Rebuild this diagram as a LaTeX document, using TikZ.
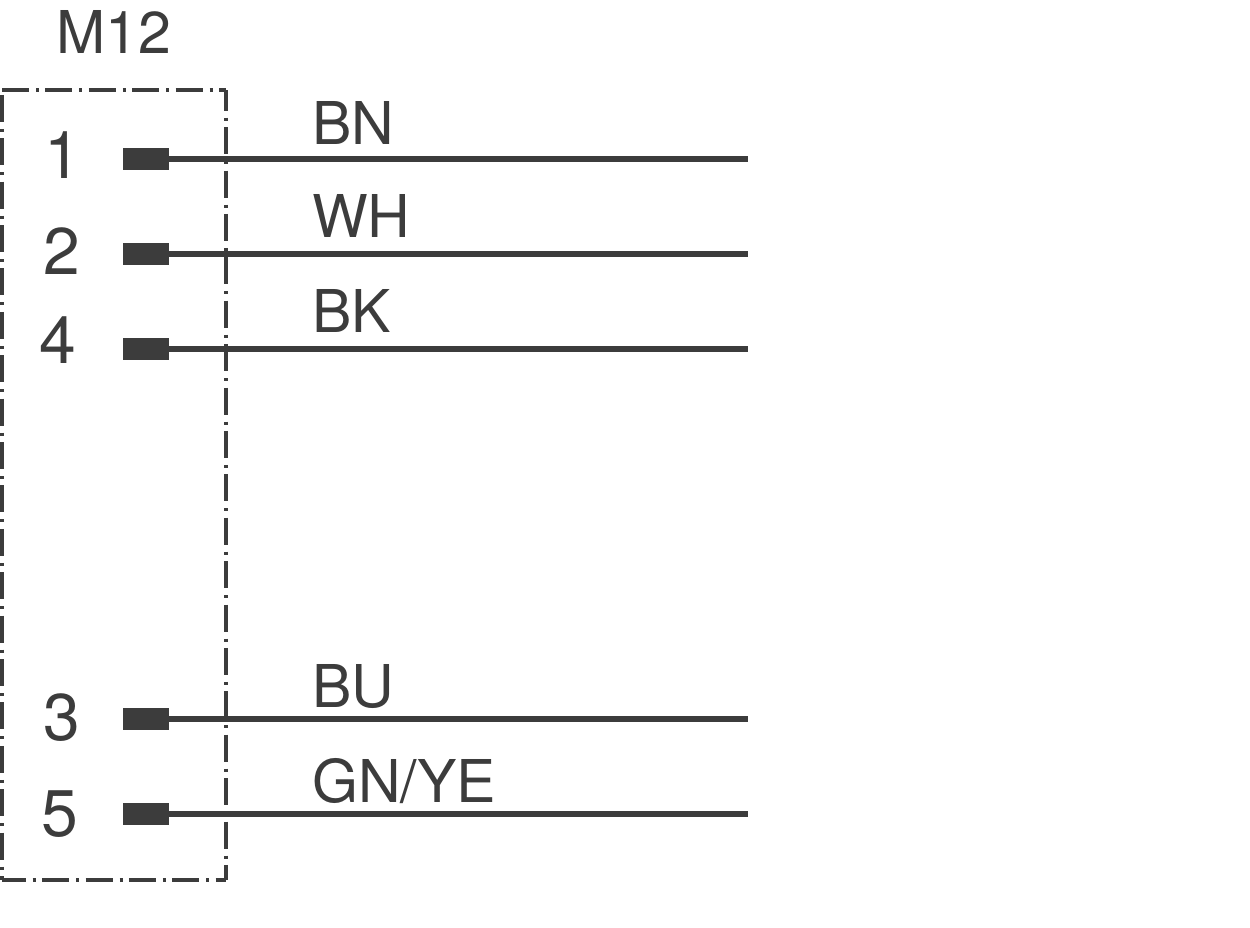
\documentclass[tikz,border=0pt]{standalone}
\usepackage{fontspec}
\setmainfont{TeX Gyre Heros}
\definecolor{wiredark}{RGB}{60, 60, 60}
\usetikzlibrary{positioning}
\tikzset{
	pinbox/.style={fill=wiredark, draw=none, minimum width=46pt, minimum height=22pt, inner sep=0pt, outer sep=0pt},
	wirelabel/.style={text=wiredark, font=\fontsize{59}{59}\selectfont, inner sep=0pt, anchor=base west},
	pinlabel/.style={text=wiredark, font=\fontsize{66}{66}\selectfont, inner sep=0pt, anchor=base},
	wire/.style={draw=wiredark, line width=6pt},
	housing/.style={draw=wiredark, line width=3.5pt, dash pattern=on 27pt off 7pt on 3pt off 6.4pt},
}
\begin{document}
\begin{tikzpicture}[x=1pt, y=-1pt]
	\useasboundingbox (0,0) rectangle (1250,927);
	% Housing
	\coordinate (tl) at (2,90);
	\coordinate (tr) at (226,90);
	\coordinate (bl) at (2,880);
	\coordinate (br) at (226,880);
	\draw[housing] (tl) -- (tr);
	\draw[housing, dash phase=6.3pt] (tr) -- (br);
	\draw[housing, dash phase=3.3pt] (bl) -- (br);
	\draw[housing, line width=4.5pt, dash phase=38.6pt] (tl) -- (bl);
	\node[wirelabel, anchor=base] (title) at (113.5,53) {M12};
	% Pins and wires
	\foreach \pin/\ypos/\xnum/\ynum/\colour/\ycol in {1/159/63/178/BN/144, 2/254/62/274/WH/237, 4/349/58/363/BK/332, 3/719/62/740/BU/707, 5/814/60/836/GN\slash YE/802}{
		\node[pinbox] (pin\pin) at (146,\ypos) {};
		\coordinate (end\pin) at (748,\ypos);
		\draw[wire] (pin\pin.east) -- (end\pin);
		\node[pinlabel] (num\pin) at (\xnum,\ynum) {\pin};
		\node[wirelabel] (col\pin) at (312,\ycol) {\colour};
	}
\end{tikzpicture}
\end{document}
